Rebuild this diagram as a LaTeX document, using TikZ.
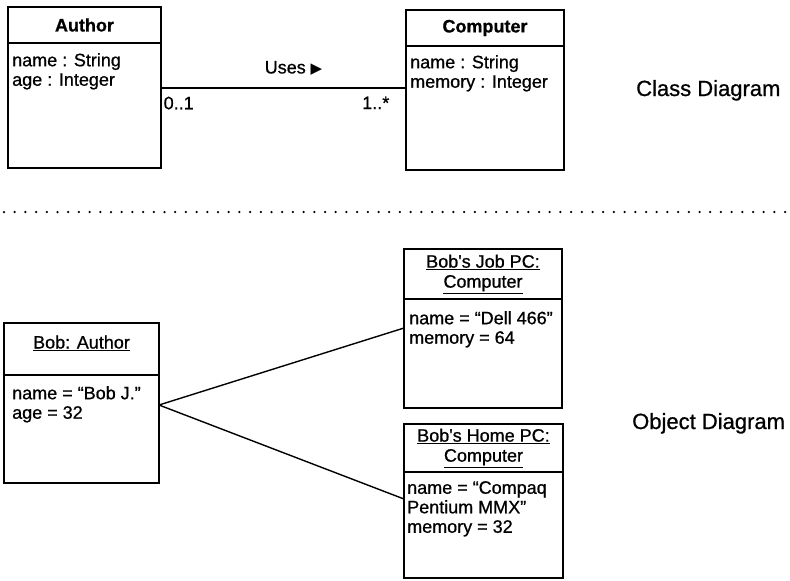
\documentclass[tikz,border=0pt]{standalone}
\usepackage{fontspec}
\setmainfont{Liberation Sans}
\newfontfamily\scanfont{Liberation Sans}[FakeBold=0.8]
\newfontfamily\symfont{DejaVu Sans}
\usetikzlibrary{positioning}
\tikzset{boxpart/.style={draw,line width=1.5pt,inner sep=0pt,outer sep=0pt,anchor=north west,align=center,font=\scanfont\fontsize{18}{20}\selectfont},
  attr/.style={anchor=north west,align=left,inner sep=0pt,font=\scanfont\fontsize{18}{19.5}\selectfont},
  link/.style={line width=1.4pt},
  mult/.style={inner sep=0pt,font=\scanfont\fontsize{18}{20}\selectfont},
  title/.style={anchor=base west,inner sep=0pt,font=\scanfont\fontsize{22}{24}\selectfont},
  sepline/.style={line width=2.5pt,line cap=round,dash pattern=on 0pt off 10.7pt}}
\newcommand{\umlbox}[8][]{%
  \node[boxpart,minimum width=#5pt,minimum height=#6pt,#1] (#2head) at (#3,#4) {#8};
  \node[boxpart,minimum width=#5pt,minimum height=#7pt] (#2body) at (#2head.south west) {};}

\begin{document}
\begin{tikzpicture}[x=1pt,y=-1pt]
  \useasboundingbox (0,0) rectangle (790,581);
  \umlbox{author}{8}{7}{153}{36}{125}{\bfseries Author}
  \umlbox{computer}{406}{10}{158}{36}{124}{\bfseries Computer}
  \node[attr] (authorattr) at ([xshift=4pt,yshift=-10pt]authorbody.north west) {name : String\\age : Integer};
  \node[attr] (computerattr) at ([xshift=4pt,yshift=-9pt]computerbody.north west) {name : String\\memory : Integer};
  \draw[link] ([yshift=-45pt]authorbody.north east) -- ([yshift=-42pt]computerbody.north west)
    node[mult,midway,anchor=south,xshift=10pt,yshift=12pt] (uses) {Uses {\symfont\fontsize{15}{15}\selectfont ▶}}
    node[mult,at start,anchor=north west,xshift=2pt,yshift=-8pt] (multauthor) {0..1}
    node[mult,at end,anchor=north east,xshift=-16pt,yshift=-8pt] (multcomputer) {1..*};
  \node[title] (classlbl) at (636,96) {Class Diagram};
  \draw[sepline] (4,212) -- (790,212);
  \umlbox[text depth=14pt]{bob}{4}{323}{155}{52}{108}{\underline{Bob: Author}}
  \umlbox{job}{404}{249}{158}{50}{109}{\underline{Bob's Job PC:}\\\underline{Computer}}
  \umlbox{home}{404}{424}{159}{48}{106}{\underline{Bob's Home PC:}\\\underline{Computer}}
  \node[attr] (bobattr) at ([xshift=8pt,yshift=-11pt]bobbody.north west) {name = “Bob J.”\\age = 32};
  \node[attr] (jobattr) at ([xshift=5pt,yshift=-12pt]jobbody.north west) {name = “Dell 466”\\memory = 64};
  \node[attr] (homeattr) at ([xshift=3pt,yshift=-9pt]homebody.north west) {name = “Compaq\\Pentium MMX”\\memory = 32};
  \draw[link] ([yshift=-30pt]bobbody.north east) -- ([yshift=-29pt]jobbody.north west);
  \draw[link] ([yshift=-30pt]bobbody.north east) -- ([yshift=-27pt]homebody.north west);
  \node[title] (objectlbl) at (632,429) {Object Diagram};
\end{tikzpicture}
\end{document}
